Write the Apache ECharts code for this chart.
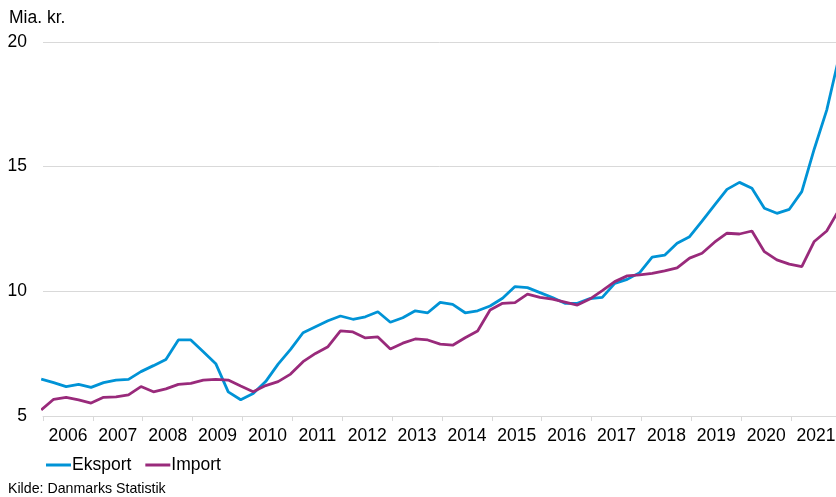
<!DOCTYPE html>
<html>
<head>
<meta charset="utf-8">
<script src="https://cdn.jsdelivr.net/npm/echarts@6/dist/echarts.min.js"></script>
<style>
html,body{margin:0;padding:0;background:#fff;overflow:hidden;}
#c{width:836px;height:497px;}
</style>
</head>
<body>
<div id="c"></div>
<script>
// ---- data ----
const yearLabels = ['2006','2007','2008','2009','2010','2011','2012','2013','2014','2015','2016','2017','2018','2019','2020','2021'];
const quarters = [];
for (let y = 2006; y <= 2021; y++) for (let q = 1; q <= 4; q++) quarters.push(y + 'K' + q);
quarters.push('2022K1');

const eksport = [
  6.48, 6.34, 6.18, 6.27, 6.15, 6.34, 6.44, 6.47,
  6.78, 7.02, 7.27, 8.05, 8.05, 7.58, 7.10, 5.97,
  5.65, 5.90, 6.38, 7.08, 7.67, 8.34, 8.58, 8.82,
  9.01, 8.88, 8.98, 9.18, 8.76, 8.94, 9.22, 9.14,
  9.56, 9.48, 9.14, 9.22, 9.41, 9.72, 10.19, 10.15,
  9.95, 9.75, 9.52, 9.52, 9.71, 9.76, 10.32, 10.48,
  10.75, 11.37, 11.45, 11.93, 12.19, 12.82, 13.46, 14.09,
  14.37, 14.13, 13.33, 13.13, 13.29, 14.00, 15.71, 17.27,
  19.42
];
const importVals = [
  5.24, 5.67, 5.75, 5.65, 5.52, 5.75, 5.77, 5.85,
  6.18, 5.97, 6.09, 6.27, 6.31, 6.44, 6.47, 6.44,
  6.20, 5.97, 6.22, 6.38, 6.68, 7.18, 7.51, 7.78,
  8.41, 8.37, 8.13, 8.17, 7.69, 7.92, 8.09, 8.05,
  7.88, 7.84, 8.14, 8.41, 9.25, 9.52, 9.55, 9.89,
  9.76, 9.69, 9.57, 9.45, 9.69, 10.03, 10.39, 10.62,
  10.66, 10.72, 10.82, 10.94, 11.33, 11.53, 11.97, 12.33,
  12.30, 12.42, 11.59, 11.26, 11.09, 10.99, 12.00, 12.42,
  13.28
];
const seriesNames = ['Eksport', 'Import'];
const yTicks = [5, 10, 15, 20];
const unitLabel = 'Mia. kr.';
const sourceLabel = 'Kilde: Danmarks Statistik';

// ---- build ----
const POINT_SHIFT = -0.036; // points sit slightly before the year tick
function qx(label) {
  const y = parseInt(label.slice(0, 4), 10);
  const q = parseInt(label.slice(5), 10);
  return y + (q - 1) / 4 + POINT_SHIFT;
}
const toPairs = vals => quarters.map((c, i) => [qx(c), vals[i]]);
const firstYear = parseInt(yearLabels[0], 10);
const tickVals = yearLabels.map(s => parseInt(s, 10));
const labelVals = yearLabels.map(s => parseInt(s, 10) + 0.5);
const VISIBLE_SPAN = 15.9; // the picture is cropped just before the end of 2021

const FONT = 'Liberation Sans, Arial, sans-serif';
const chart = echarts.init(document.getElementById('c'), null, {renderer: 'canvas'});
chart.setOption({
  animation: false,
  backgroundColor: '#fff',
  grid: {left: 43, right: 0, top: 42, bottom: 81, containLabel: false, outerBoundsMode: 'none'},
  xAxis: {
    type: 'value',
    min: firstYear,
    max: firstYear + VISIBLE_SPAN,
    scale: true,
    axisLine: {show: true, lineStyle: {color: '#d9d9d9', width: 1}},
    axisTick: {show: true, length: 5, lineStyle: {color: '#d9d9d9'}, customValues: tickVals},
    axisLabel: {
      show: true, margin: 11, color: '#000', fontSize: 17.5, fontFamily: FONT,
      customValues: labelVals,
      formatter: v => String(Math.floor(v))
    },
    splitLine: {show: false}
  },
  yAxis: {
    type: 'value',
    min: yTicks[0],
    max: yTicks[yTicks.length - 1],
    interval: 5,
    axisLine: {show: false},
    axisTick: {show: false},
    axisLabel: {margin: 16, color: '#000', fontSize: 17.5, fontFamily: FONT},
    splitLine: {show: true, lineStyle: {color: '#d9d9d9', width: 1}}
  },
  legend: {
    left: 41, top: 451, padding: 5,
    icon: 'rect', itemWidth: 25, itemHeight: 3, itemGap: 14,
    textStyle: {color: '#000', fontSize: 17.5, fontFamily: FONT, padding: [0, 0, 0, -4]},
    data: seriesNames
  },
  graphic: [
    {type: 'text', left: 9, top: 9, style: {text: unitLabel, fill: '#000', font: '17.5px ' + FONT}},
    {type: 'text', left: 8, top: 482, style: {text: sourceLabel, fill: '#000', font: '14.2px ' + FONT}}
  ],
  series: [
    {name: seriesNames[0], type: 'line', data: toPairs(eksport), showSymbol: false, symbol: 'none',
     lineStyle: {color: '#0093d6', width: 2.8}, itemStyle: {color: '#0093d6'}, clip: true},
    {name: seriesNames[1], type: 'line', data: toPairs(importVals), showSymbol: false, symbol: 'none',
     lineStyle: {color: '#992a7b', width: 2.8}, itemStyle: {color: '#992a7b'}, clip: true}
  ]
});
</script>
</body>
</html>
